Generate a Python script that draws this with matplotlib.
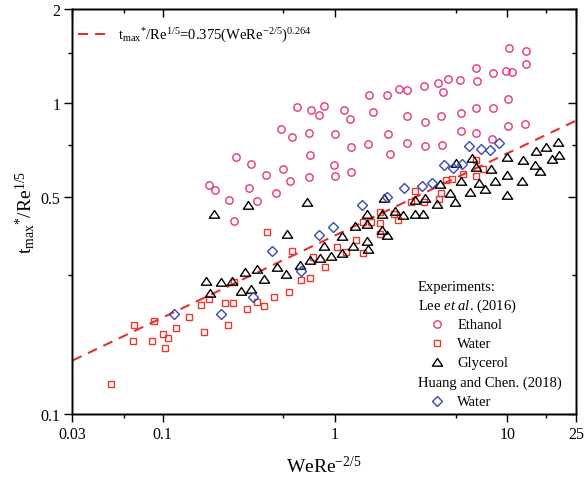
import numpy as np
import matplotlib
matplotlib.use("Agg")
import matplotlib.pyplot as plt
from matplotlib.ticker import NullFormatter
from matplotlib.path import Path

plt.rcParams.update({
    "font.family": "Liberation Serif",
    "mathtext.fontset": "custom",
    "mathtext.rm": "Liberation Serif",
    "mathtext.it": "Liberation Serif:italic",
    "mathtext.bf": "Liberation Serif:bold",
    "mathtext.default": "regular",
    "axes.linewidth": 1.0,
})

# Lee et al. (2016) - ethanol
ethanol_x = [0.600, 0.726, 0.811, 0.485, 0.566, 0.707, 0.714, 0.267, 0.325, 0.502,
             0.400, 0.549, 0.710, 0.186, 0.200, 0.318, 0.453, 0.244, 0.355, 0.261,
             10.2, 12.9, 12.9, 6.55, 8.25, 9.87, 10.6, 4.53, 5.29, 6.64,
             3.96, 3.28, 4.24, 2.35, 2.60, 1.58, 2.00, 10.1,
             0.864, 1.127, 1.216, 1.66, 2.62, 3.33, 4.13, 5.35, 6.61, 8.25, 10.1, 12.7,
             0.996, 2.04, 5.35, 6.61, 8.19, 1.243, 1.559, 2.62, 3.33, 4.18,
             2.09, 0.987, 1.00, 1.238]
ethanol_y = [0.971, 0.947, 0.917, 0.827, 0.777, 0.802, 0.678, 0.668, 0.636, 0.615,
             0.585, 0.562, 0.576, 0.543, 0.525, 0.534, 0.513, 0.486, 0.484, 0.417,
             1.496, 1.47, 1.331, 1.299, 1.249, 1.268, 1.258, 1.197, 1.189, 1.177,
             1.160, 1.137, 1.082, 1.110, 1.104, 1.063, 1.063, 1.032,
             0.975, 0.949, 0.890, 0.937, 0.910, 0.869, 0.910, 0.926, 0.966, 0.966, 0.841, 0.858,
             0.797, 0.797, 0.813, 0.801, 0.766, 0.722, 0.738, 0.741, 0.727, 0.733,
             0.687, 0.633, 0.583, 0.598]

# Lee et al. (2016) - water
water_x = [0.404, 0.562, 0.0503, 0.0686, 0.0674, 0.0895, 0.0868, 0.100, 0.107, 0.1032,
           0.1195, 0.1414, 0.166, 0.1744, 0.1864, 0.2307, 0.2557, 0.2391, 0.308, 0.355,
           0.388, 0.445, 0.539, 0.633, 0.717, 0.749, 0.260, 0.875, 1.031, 1.153,
           1.447, 1.323, 1.822, 1.458, 1.616, 1.822, 1.822, 2.196, 2.326, 2.744,
           2.906, 3.289, 4.018, 4.093, 4.375, 4.739, 5.533, 6.546, 7.194, 6.546]
water_y = [0.384, 0.335, 0.1246, 0.193, 0.1718, 0.199, 0.1714, 0.181, 0.1757, 0.1634,
           0.189, 0.2056, 0.2238, 0.1832, 0.2345, 0.2277, 0.2277, 0.193, 0.2173, 0.2294,
           0.2222, 0.2385, 0.247, 0.2705, 0.274, 0.319, 0.2654, 0.2966, 0.344, 0.3315,
           0.330, 0.363, 0.3796, 0.414, 0.414, 0.411, 0.4458, 0.440, 0.419, 0.480,
           0.521, 0.480, 0.4896, 0.513, 0.5636, 0.5677, 0.589, 0.582, 0.611, 0.654]

# Lee et al. (2016) - glycerol
glycerol_x = [0.1984, 0.3134, 0.688, 0.5295, 0.179, 0.218, 0.2533, 0.1871, 0.2985, 0.352,
              0.2855, 0.325, 0.3896, 0.4634, 0.520, 0.627, 0.717, 0.813, 0.948, 1.102,
              1.276, 1.559, 1.526, 0.864, 1.093, 1.306, 1.526, 1.879, 2.008, 1.526,
              1.864, 2.235, 2.466, 2.906, 3.246, 1.930, 2.906, 3.32, 3.912, 4.055,
              4.634, 4.973, 6.048, 7.388, 9.95, 19.63, 16.82, 14.58, 19.9, 18.13,
              14.45, 15.38, 12.31, 10.0, 6.27, 5.02, 6.546, 8.08, 9.95, 12.1,
              8.44, 6.82, 5.39]
glycerol_y = [0.440, 0.4707, 0.480, 0.3796, 0.2674, 0.2666, 0.268, 0.245, 0.2858, 0.2929,
              0.2493, 0.2525, 0.2714, 0.2979, 0.2822, 0.3017, 0.312, 0.3177, 0.3217, 0.329,
              0.348, 0.340, 0.361, 0.348, 0.373, 0.4036, 0.4088, 0.389, 0.375, 0.440,
              0.440, 0.451, 0.4347, 0.440, 0.440, 0.4947, 0.486, 0.4947, 0.474, 0.547,
              0.5144, 0.480, 0.517, 0.530, 0.504, 0.749, 0.722, 0.702, 0.678, 0.658,
              0.630, 0.605, 0.654, 0.670, 0.665, 0.642, 0.6224, 0.611, 0.585, 0.5594,
              0.5594, 0.551, 0.5594]

# Huang and Chen (2018) - water
huang_x = [0.1158, 0.2188, 0.335, 0.4336, 0.631, 0.8024, 0.970, 1.443, 2.014, 2.519,
           3.203, 3.669, 4.289, 4.842, 5.416, 5.969, 7.005, 7.97, 8.99]
huang_y = [0.2094, 0.2094, 0.2385, 0.333, 0.2892, 0.375, 0.399, 0.4696, 0.4969, 0.533,
           0.5406, 0.5508, 0.6317, 0.6193, 0.636, 0.725, 0.711, 0.7035, 0.7434]

# power-law correlation t*/Re^(1/5) = a (WeRe^(-2/5))^b
fit_coef = 0.375
fit_exp = 0.264

x_major = [0.03, 0.1, 1, 10, 25]
x_major_labels = ["0.03", "0.1", "1", "10", "25"]
x_minor = [0.06, 0.5, 5, 16.7]
y_major = [0.1, 0.5, 1, 2]
y_major_labels = ["0.1", "0.5", "1", "2"]
y_minor = [0.28, 0.73, 1.45]

PINK = "#E8347E"
RED = "#E53A2F"
BLUE = "#3A48B5"
LINE_RED = "#E53030"

# wide, flat open triangle
TRIANGLE = Path([(-1.0, -0.72), (1.0, -0.72), (0.0, 0.78), (-1.0, -0.72)],
                [Path.MOVETO, Path.LINETO, Path.LINETO, Path.CLOSEPOLY])

MS_CIRCLE, MS_SQUARE, MS_TRI, MS_DIAMOND = 5.3, 5.0, 7.4, 5.1

fig = plt.figure(figsize=(5.87, 4.89), dpi=100)
ax = fig.add_axes([0.1235, 0.1513, 0.8578, 0.8277])
ax.set_xscale("log")
ax.set_yscale("log")

fit_x = np.geomspace(x_major[0], x_major[-1], 200)
fit_y = fit_coef * fit_x ** fit_exp
dash = (0, (4.8, 3.4))
ax.plot(fit_x, fit_y, color=LINE_RED, lw=1.5, ls=dash, zorder=2)

mk = dict(ls="none", mfc="none", mew=1.0, zorder=3)
ax.plot(ethanol_x, ethanol_y, marker="o", ms=MS_CIRCLE, mec=PINK, **mk)
ax.plot(water_x, water_y, marker="s", ms=MS_SQUARE, mec=RED, **mk)
ax.plot(glycerol_x, glycerol_y, marker=TRIANGLE, ms=MS_TRI, mec="black", **mk)
ax.plot(huang_x, huang_y, marker="D", ms=MS_DIAMOND, mec=BLUE, **mk)

ax.set_xlim(x_major[0], x_major[-1])
ax.set_ylim(y_major[0], y_major[-1])

ax.set_xticks(x_major)
ax.set_xticklabels(x_major_labels)
ax.set_xticks(x_minor, minor=True)
ax.xaxis.set_minor_formatter(NullFormatter())
ax.set_yticks(y_major)
ax.set_yticklabels(y_major_labels)
ax.set_yticks(y_minor, minor=True)
ax.yaxis.set_minor_formatter(NullFormatter())
ax.tick_params(which="both", direction="out", width=1.0, labelsize=11.5, pad=3)
ax.tick_params(which="major", length=5.5)
ax.tick_params(which="minor", length=3)

# mirrored inward ticks on the top and right spines
ax_top = ax.twiny()
ax_top.set_xscale("log")
ax_top.set_xlim(ax.get_xlim())
ax_top.set_xticks(x_major)
ax_top.set_xticks(x_minor, minor=True)
ax_top.tick_params(which="both", direction="in", width=1.0, labeltop=False)
ax_top.tick_params(which="major", length=5.5)
ax_top.tick_params(which="minor", length=3)

ax_right = ax.twinx()
ax_right.set_yscale("log")
ax_right.set_ylim(ax.get_ylim())
ax_right.set_yticks(y_major)
ax_right.set_yticks(y_minor, minor=True)
ax_right.tick_params(which="both", direction="in", width=1.0, labelright=False)
ax_right.tick_params(which="major", length=5.5)
ax_right.tick_params(which="minor", length=3)

ax.set_xlabel(r"WeRe$^{{-}2/5}$", fontsize=14)
ax.xaxis.set_label_coords(0.5, -0.10)
ax.set_ylabel(r"t$_{max}{}^{*}$/Re$^{1/5}$", fontsize=14)
ax.yaxis.set_label_coords(-0.07, 0.5)

# correlation key (top left)
ax.plot([0.011, 0.0645], [0.939, 0.939], transform=ax.transAxes, color=LINE_RED,
        lw=1.5, ls=dash, clip_on=False)
ax.text(0.0904, 0.936, r"t$_{max}{}^{*}$/Re$^{1/5}$=0.375(WeRe$^{{-}2/5}$)$^{0.264}$",
        transform=ax.transAxes, fontsize=10.5, va="center", ha="left")

# experiment key (bottom right)
fs = 10.5
tx0, mx, tx1 = 0.686, 0.724, 0.764
ax.text(tx0, 0.316, "Experiments:", transform=ax.transAxes, fontsize=fs, va="center")
ax.text(tx0, 0.269, r"Lee $\mathit{et\ al}$. (2016)", transform=ax.transAxes, fontsize=fs, va="center")
ax.text(tx0, 0.079, "Huang and Chen. (2018)", transform=ax.transAxes, fontsize=fs, va="center")
key_rows = [
    (0.222, "o", MS_CIRCLE, PINK, "Ethanol"),
    (0.175, "s", MS_SQUARE, RED, "Water"),
    (0.128, TRIANGLE, MS_TRI, "black", "Glycerol"),
    (0.032, "D", MS_DIAMOND, BLUE, "Water"),
]
for ky, m, ms, c, lab in key_rows:
    ax.plot([mx], [ky], transform=ax.transAxes, marker=m, ms=ms, mec=c, mfc="none",
            mew=1.0, ls="none", clip_on=False)
    ax.text(tx1, ky, lab, transform=ax.transAxes, fontsize=fs, va="center")

fig.savefig("out.png", dpi=100)
